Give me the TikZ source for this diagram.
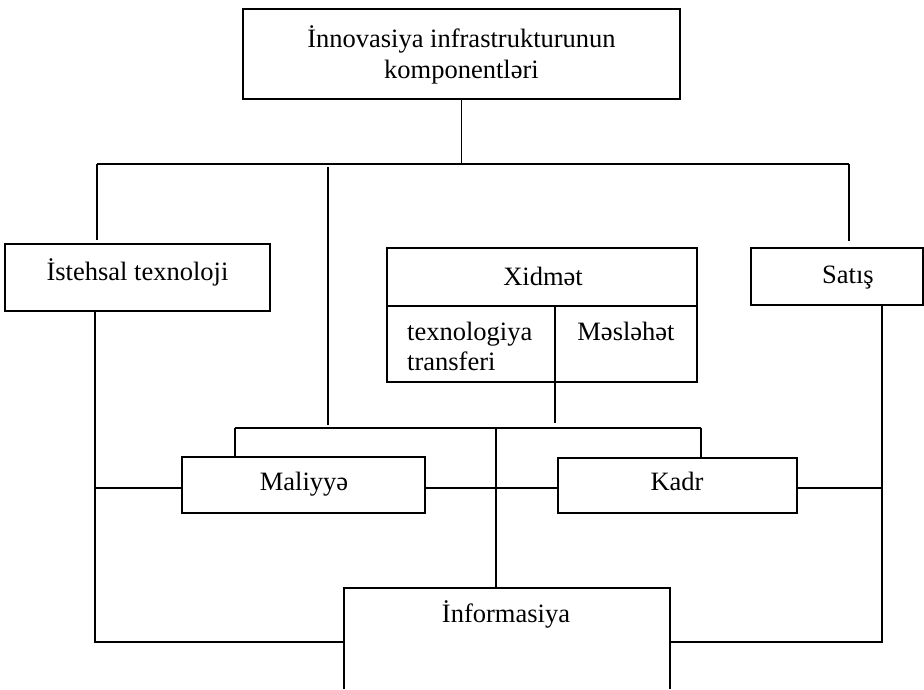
\documentclass[tikz,border=0pt]{standalone}
\usepackage{fontspec}
\setmainfont{Liberation Serif}
\begin{document}
\begin{tikzpicture}[x=1pt,y=-1pt,
  box/.style={draw, line width=1.6pt, inner sep=0pt},
  ln/.style={line width=1.6pt},
  txt/.style={anchor=base, inner sep=0pt, font=\fontsize{26.5}{31}\selectfont},
  txtl/.style={anchor=base west, inner sep=0pt, font=\fontsize{26.5}{31}\selectfont}]
\useasboundingbox (0,0) rectangle (924,689);
% boxes
\node[box, minimum width=437pt, minimum height=90pt] (top) at (461.5,54) {};
\node[box, minimum width=265pt, minimum height=67pt] (ist) at (137.5,277.5) {};
\node[box, minimum width=310pt, minimum height=58pt] (xid) at (542,277) {};
\node[box, minimum width=168pt, minimum height=76pt] (xl) at (471,344) {};
\node[box, minimum width=142pt, minimum height=76pt] (xr) at (626,344) {};
\node[box, minimum width=172pt, minimum height=57pt] (sat) at (837,276.5) {};
\node[box, minimum width=243pt, minimum height=56pt] (mal) at (303.5,485) {};
\node[box, minimum width=239pt, minimum height=55pt] (kad) at (677.5,485.5) {};
\node[inner sep=0pt, minimum width=326pt, minimum height=101pt] (info) at (507,638.5) {};
\draw[ln] (info.south west) -- (info.north west) -- (info.north east) -- (info.south east);
% texts
\node[txt] (t1) at (461.5,47) {İnnovasiya infrastrukturunun};
\node[txt] (t2) at (461.5,78) {komponentləri};
\node[txt] (t3) at (137.5,280) {İstehsal texnoloji};
\node[txt] (t4) at (543,285) {Xidmət};
\node[txtl] (t5) at (407,340) {texnologiya};
\node[txtl] (t6) at (407,370) {transferi};
\node[txt] (t7) at (626,340) {Məsləhət};
\node[txt] (t8) at (848,283) {Satış};
\node[txt] (t9) at (304,490) {Maliyyə};
\node[txt] (t10) at (677,490) {Kadr};
\node[txt] (t11) at (506,622) {İnformasiya};
% connectors
\coordinate (hl) at (97,164);
\coordinate (hr) at (849,164);
\draw[ln] (hl) -- (hr);
\draw[ln] (top.south) -- (top.south |- hl);
\draw[ln, shorten >=3pt] (hl) -- (hl |- ist.north);
\draw[ln, shorten >=6pt] (hr) -- (hr |- sat.north);
\coordinate (m1) at (328,167);
\coordinate (m2) at (328,425);
\draw[ln] (m1) -- (m2);
\coordinate (xd) at (555,423);
\draw[ln] (xd |- xl.south) -- (xd);
\coordinate (bl) at (235,428);
\coordinate (br) at (701,428);
\coordinate (bc) at (496,428);
\draw[ln] (bl) -- (br);
\draw[ln] (bl) -- (bl |- mal.north);
\draw[ln] (br) -- (br |- kad.north);
\draw[ln] (bc) -- (bc |- info.north);
\coordinate (lv) at (95,488);
\coordinate (rv) at (882,488);
\draw[ln] (lv) -- (mal.west |- lv);
\draw[ln] (mal.east |- lv) -- (kad.west |- lv);
\draw[ln] (kad.east |- lv) -- (rv);
\coordinate (lb) at (95,642);
\coordinate (rb) at (882,642);
\draw[ln] (ist.south -| lb) -- (lb) -- (info.west |- lb);
\draw[ln] (sat.south -| rb) -- (rb) -- (info.east |- rb);
\end{tikzpicture}
\end{document}
